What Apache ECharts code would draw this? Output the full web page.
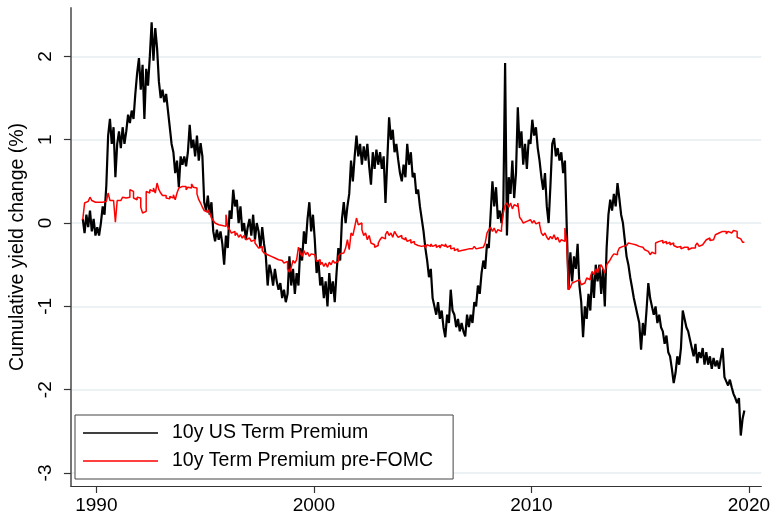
<!DOCTYPE html>
<html>
<head>
<meta charset="utf-8">
<script src="https://cdn.jsdelivr.net/npm/echarts@6/dist/echarts.min.js"></script>
<style>
  html, body { margin: 0; padding: 0; background: #fff; }
  #chart { width: 773px; height: 519px; }
</style>
</head>
<body>
<div id="chart"></div>
<script>
// monthly observations, first one is May 1989
var startYear = 1989;
var startMonth = 5;

// 10y US Term Premium, cumulative change (%)
var termPremium = [
  0.05, -0.12, 0.1, -0.05, 0.15, -0.1, 0.05, -0.15,
  -0.05, -0.15, 0.0, 0.2, 0.1, 0.45, 1.05, 1.25, 0.95, 1.15, 0.55, 0.95,
  1.1, 0.9, 1.15, 0.95, 1.1, 1.3, 1.2, 1.35, 1.25, 1.55, 1.8, 1.98,
  1.6, 1.9, 1.25, 1.85, 1.65, 2.0, 2.41, 1.95, 2.34, 2.1, 1.7, 1.5,
  1.6, 1.45, 1.55, 1.35, 1.15, 0.95, 0.85, 0.6, 0.75, 0.43, 0.8, 0.7,
  0.8, 0.68, 0.85, 1.18, 0.9, 1.0, 0.8, 1.05, 0.75, 0.96, 0.8, 0.25,
  0.15, 0.33, 0.1, 0.25, -0.1, -0.22, -0.08, -0.2, -0.1, -0.25, -0.5, -0.15,
  -0.3, 0.15, 0.05, 0.4, 0.2, 0.28, 0.0, 0.2, -0.1, 0.0, -0.2, -0.05,
  0.05, -0.15, 0.1, -0.2, 0.0, -0.1, -0.3, -0.05, -0.25, -0.4, -0.75, -0.5,
  -0.6, -0.75, -0.55, -0.7, -0.8, -0.72, -0.9, -0.8, -0.95, -0.85, -0.4, -0.75,
  -0.55, -0.85, -0.6, -0.75, -0.3, -0.45, -0.1, -0.25, 0.05, 0.25, -0.1, 0.1,
  -0.2, -0.6, -0.45, -0.75, -0.65, -0.9, -0.7, -1.0, -0.6, -0.85, -0.7, -0.95,
  -0.6, -0.3, -0.45, 0.05, 0.25, 0.0, 0.2, 0.35, 0.75, 0.5, 0.8, 1.05,
  0.8, 0.95, 0.7, 0.92, 0.75, 0.95, 0.68, 0.46, 0.85, 0.65, 0.88, 0.7,
  0.85, 0.65, 0.8, 0.24, 0.75, 1.27, 1.0, 1.12, 0.85, 0.95, 0.76, 0.6,
  0.5, 0.7, 0.55, 0.95, 0.7, 0.85, 0.55, 0.6, 0.35, 0.4, 0.2, 0.05,
  -0.1, -0.3, -0.45, -0.65, -0.55, -0.9, -1.0, -1.1, -0.95, -1.15, -1.05, -1.25,
  -1.37, -1.1, -1.2, -0.8, -1.05, -1.1, -1.25, -1.15, -1.3, -1.2, -1.3, -1.36,
  -1.1, -1.25, -1.1, -1.2, -0.95, -1.0, -0.75, -0.85, -0.6, -0.45, -0.55, -0.25,
  -0.3, 0.1, 0.5, 0.2, 0.43, 0.05, 0.15, 0.0, 0.19, 1.92, -0.15, 0.55,
  0.35, 0.75, 0.3, 0.6, 1.39, 0.9, 1.1, 0.7, 0.95, 0.65, 1.0, 0.95,
  1.24, 1.05, 1.15, 0.9, 0.75, 0.55, 0.4, 0.6, 0.2, 0.0, 0.45, 0.95,
  1.02, 0.8, 0.9, 0.75, 0.85, 0.6, 0.75, -0.05, -0.8, -0.35, -0.7, -0.4,
  -0.55, -0.25, -0.75, -0.95, -1.37, -1.0, -1.15, -0.85, -1.05, -0.6, -0.9, -0.5,
  -0.7, -0.5, -0.85, -0.55, -1.0, -0.3, 0.1, 0.28, 0.15, 0.35, 0.2, 0.48,
  0.3, 0.1, 0.0, -0.2, -0.4, -0.5, -0.65, -0.77, -0.9, -1.0, -1.1, -1.2,
  -1.52, -1.2, -1.35, -1.05, -0.72, -0.9, -1.0, -1.1, -1.0, -1.2, -1.1, -1.25,
  -1.3, -1.45, -1.35, -1.55, -1.6, -1.75, -1.92, -1.8, -1.6, -1.7, -1.5, -1.05,
  -1.15, -1.25, -1.3, -1.4, -1.5, -1.6, -1.45, -1.68, -1.55, -1.62, -1.5, -1.7,
  -1.55, -1.7, -1.6, -1.75, -1.62, -1.72, -1.65, -1.75, -1.62, -1.5, -1.85, -1.9,
  -1.95, -1.88, -1.97, -2.05, -2.1, -2.16, -2.1, -2.55, -2.35, -2.25
];

// 10y Term Premium pre-FOMC, cumulative change (%)
var preFomc = [
  0.04, 0.24, 0.26, 0.24, 0.31, 0.27, 0.25, 0.27,
  0.25, 0.27, 0.25, 0.24, 0.26, 0.25, 0.36, 0.27, 0.27, 0.25, 0.01, 0.27,
  0.27, 0.28, 0.31, 0.3, 0.28, 0.31, 0.4, 0.38, 0.3, 0.28, 0.31, 0.3,
  0.19, 0.12, 0.14, 0.38, 0.36, 0.4, 0.38, 0.42, 0.36, 0.48, 0.4, 0.36,
  0.33, 0.33, 0.3, 0.29, 0.32, 0.3, 0.34, 0.28, 0.36, 0.42, 0.44, 0.42,
  0.44, 0.4, 0.43, 0.42, 0.47, 0.43, 0.42, 0.35, 0.28, 0.24, 0.19, 0.15,
  0.13, 0.16, 0.12, 0.06, 0.03, 0.0, -0.02, 0.0, -0.03, -0.02, -0.04, 0.1,
  -0.05, -0.08, -0.12, -0.1, -0.15, -0.12, -0.17, -0.14, -0.18, -0.15, -0.2, -0.18,
  -0.2, -0.22, -0.2, -0.24, -0.27, -0.3, -0.28, -0.33, -0.36, -0.38, -0.36, -0.4,
  -0.38, -0.42, -0.4, -0.44, -0.42, -0.45, -0.44, -0.48, -0.46, -0.55, -0.59, -0.53,
  -0.45, -0.48, -0.44, -0.29, -0.36, -0.4, -0.33, -0.38, -0.35, -0.4, -0.37, -0.38,
  -0.4, -0.46, -0.44, -0.5, -0.47, -0.52, -0.48, -0.53, -0.47, -0.5, -0.45, -0.48,
  -0.46, -0.4, -0.37, -0.36, -0.38, -0.3, -0.2, -0.32, -0.12, -0.15, -0.05, 0.06,
  -0.02, 0.0, -0.08, -0.15, -0.12, -0.2, -0.15, -0.24, -0.26, -0.29, -0.27, -0.24,
  -0.2, -0.17, -0.19, -0.14, -0.1, -0.15, -0.12, -0.17, -0.1, -0.14, -0.17, -0.15,
  -0.18, -0.2, -0.17, -0.22, -0.2, -0.24, -0.22, -0.25, -0.27, -0.25, -0.28, -0.3,
  -0.27, -0.3, -0.26, -0.28, -0.25, -0.28, -0.26, -0.29, -0.27, -0.3, -0.26, -0.28,
  -0.25, -0.29, -0.27, -0.31, -0.3, -0.33, -0.31, -0.34, -0.33, -0.35, -0.32, -0.3,
  -0.31, -0.29, -0.31, -0.3, -0.28, -0.31, -0.3, -0.32, -0.29, -0.3, -0.24, -0.12,
  -0.08, -0.05, -0.1, -0.06, -0.12, -0.08, -0.1, -0.06, 0.12, 0.21, 0.24, 0.19,
  0.24, 0.17, 0.22, 0.2, 0.24, 0.07, 0.04, 0.0, 0.02, 0.0, 0.04, 0.02,
  0.0, 0.03, -0.01, 0.01, -0.02, -0.12, -0.15, -0.12, -0.17, -0.2, -0.16, -0.19,
  -0.14, -0.2, -0.17, -0.23, -0.2, -0.22, -0.06, -0.24, -0.8, -0.77, -0.72, -0.7,
  -0.72, -0.68, -0.7, -0.74, -0.72, -0.7, -0.66, -0.68, -0.65, -0.58, -0.62, -0.55,
  -0.6, -0.53, -0.5, -0.55, -0.6, -0.5, -0.47, -0.44, -0.4, -0.37, -0.38, -0.35,
  -0.3, -0.28, -0.3, -0.27, -0.26, -0.24, -0.25, -0.23, -0.26, -0.24, -0.28, -0.27,
  -0.29, -0.3, -0.32, -0.34, -0.36, -0.38, -0.35, -0.37, -0.24, -0.22, -0.24, -0.21,
  -0.24, -0.22, -0.25, -0.23, -0.26, -0.24, -0.27, -0.29, -0.3, -0.28, -0.31, -0.29,
  -0.31, -0.29, -0.32, -0.3, -0.32, -0.3, -0.27, -0.24, -0.28, -0.26, -0.25, -0.23,
  -0.2, -0.18, -0.21, -0.2, -0.18, -0.14, -0.12, -0.13, -0.1, -0.12, -0.1, -0.13,
  -0.1, -0.12, -0.11, -0.09, -0.1, -0.17, -0.19, -0.2, -0.23, -0.23
];

var yearTicks = [1990, 2000, 2010, 2020];
var yTicks = [-3, -2, -1, 0, 1, 2];
var seriesNames = ['10y US Term Premium', '10y Term Premium pre-FOMC'];

function toPairs(values) {
  var out = [];
  for (var i = 0; i < values.length; i++) {
    var t = startYear + (startMonth - 1 + i + 0.5) / 12;
    out.push([t, values[i]]);
  }
  return out;
}

var chart = echarts.init(document.getElementById('chart'));
var font = 'Liberation Sans, Arial, sans-serif';

var option = {
  animation: false,
  grid: { left: 68, right: 11, top: 8, bottom: 33, containLabel: false },
  legend: {
    orient: 'vertical',
    left: 75,
    top: 415,
    padding: [8, 20, 8, 8],
    itemGap: 8,
    itemWidth: 75,
    itemHeight: 1.6,
    borderColor: '#444',
    borderWidth: 1,
    backgroundColor: '#fff',
    textStyle: { fontFamily: font, fontSize: 19.5, color: '#000', padding: [0, 0, 0, 9] },
    data: [
      { name: seriesNames[0], icon: 'rect' },
      { name: seriesNames[1], icon: 'rect' }
    ]
  },
  xAxis: {
    type: 'value',
    min: 1988.83,
    max: 2020.57,
    axisLine: { show: true, onZero: false, lineStyle: { color: '#333', width: 1.2 } },
    axisTick: { show: true, length: 7, customValues: yearTicks, lineStyle: { color: '#333', width: 1.2 } },
    axisLabel: {
      customValues: yearTicks,
      formatter: function (v) { return String(Math.round(v)); },
      fontFamily: font, fontSize: 19, color: '#000', margin: 10
    },
    splitLine: { show: false }
  },
  yAxis: {
    type: 'value',
    min: -3.156,
    max: 2.581,
    name: 'Cumulative yield change (%)',
    nameLocation: 'middle',
    nameGap: 29,
    nameTextStyle: { fontFamily: font, fontSize: 19.5, color: '#000' },
    axisLine: { show: true, lineStyle: { color: '#666', width: 1.8 } },
    axisTick: { show: true, length: 7, customValues: yTicks, lineStyle: { color: '#333', width: 1.2 } },
    axisLabel: { customValues: yTicks, rotate: 90, fontFamily: font, fontSize: 19, color: '#000', margin: 16 },
    splitLine: { show: true, lineStyle: { color: '#e6eef1', width: 1.5 } }
  },
  series: [
    {
      name: seriesNames[0],
      type: 'line',
      symbol: 'none',
      lineStyle: { color: '#000', width: 2.2 },
      itemStyle: { color: '#000' },
      data: toPairs(termPremium),
      z: 2
    },
    {
      name: seriesNames[1],
      type: 'line',
      step: 'end',
      symbol: 'none',
      lineStyle: { color: '#ff0000', width: 1.5 },
      itemStyle: { color: '#ff0000' },
      data: toPairs(preFomc),
      z: 3
    }
  ]
};

chart.setOption(option);
</script>
</body>
</html>
